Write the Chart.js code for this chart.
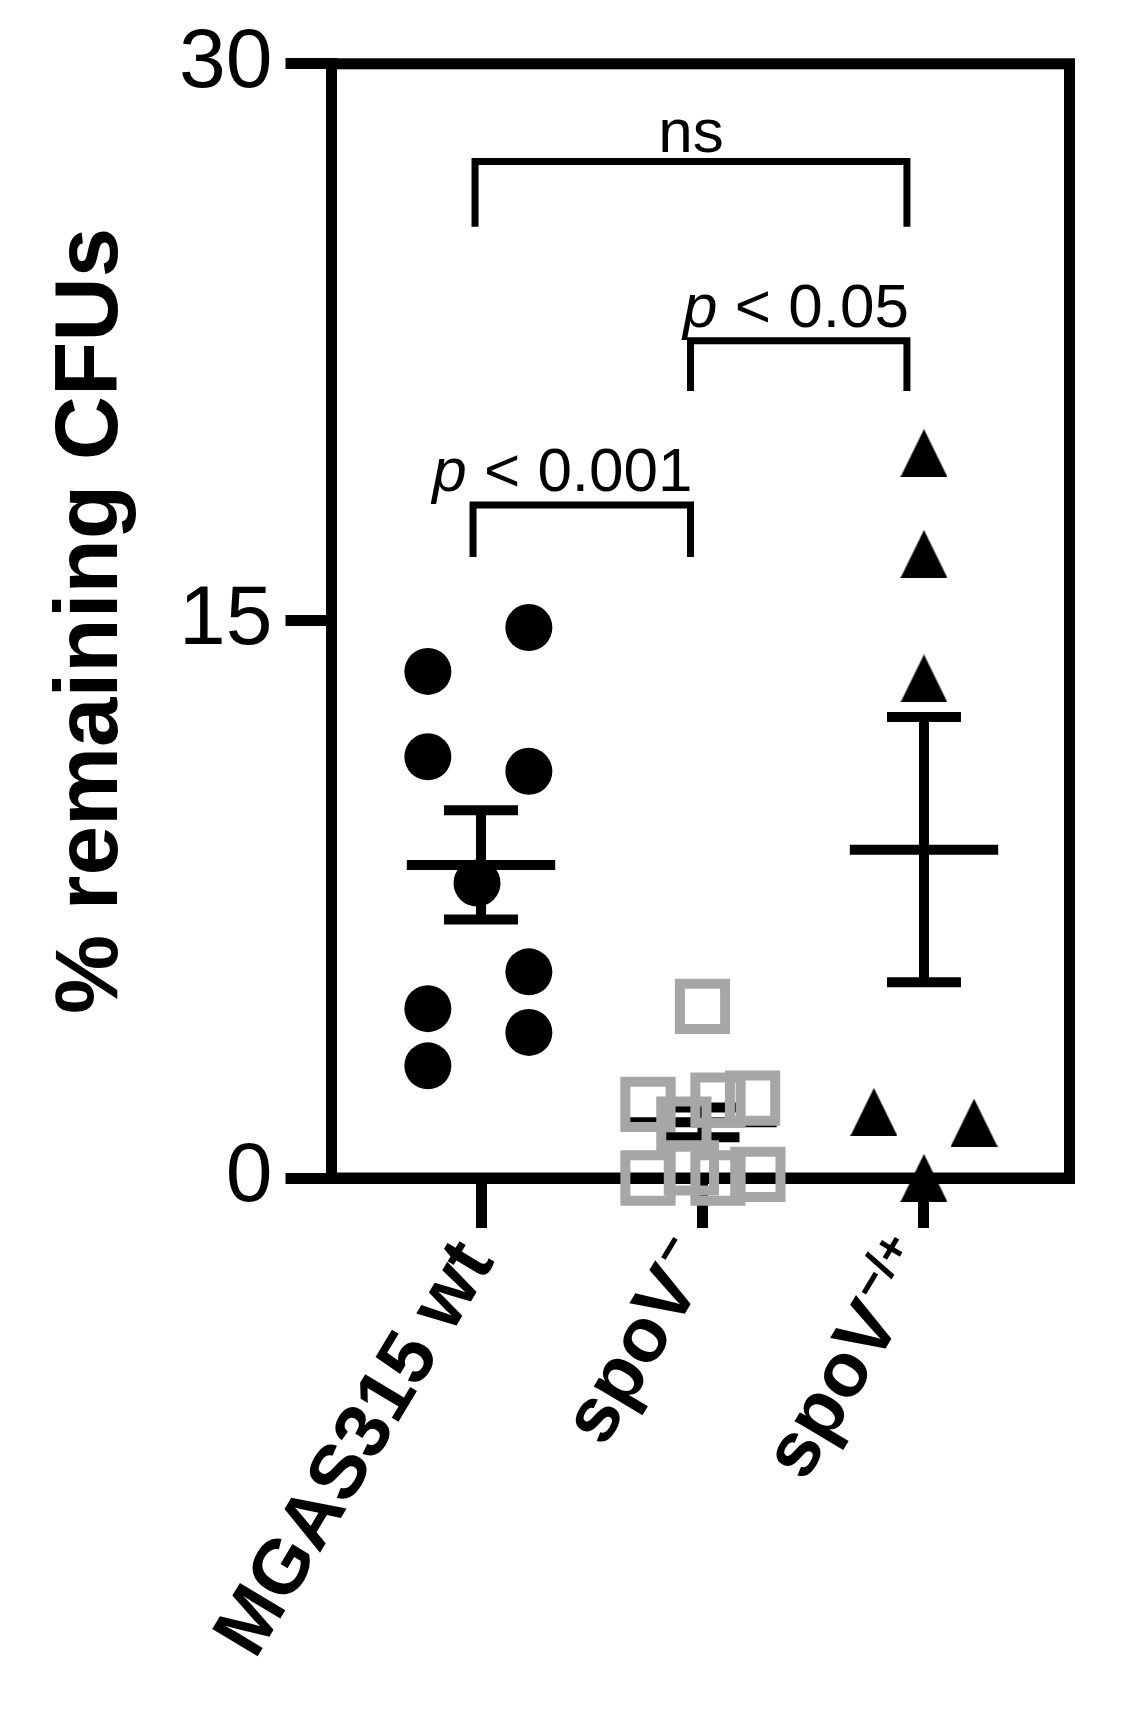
<!DOCTYPE html>
<html>
<head>
<meta charset="utf-8">
<script src="https://cdn.jsdelivr.net/npm/chart.js@4.4.1/dist/chart.umd.min.js"></script>
<style>
  html, body { margin: 0; padding: 0; background: #ffffff; }
  #wrap { width: 1142px; height: 1713px; }
</style>
</head>
<body>
<div id="wrap"><canvas id="c" width="1142" height="1713"></canvas></div>
<script>
// ---------------- data ----------------
const categories = ['MGAS315 wt', 'spoV', 'spoV'];
const categorySuperscripts = ['', '\u2212', '\u2212/+'];
const categoryPositions = [1, 2, 3];

// MGAS315 wt (filled circles)
const wtX = [1.216, 0.760, 0.760, 1.216, 0.982, 1.216, 0.760, 1.216, 0.760];
const wtY = [14.82, 13.64, 11.34, 10.95, 7.94, 5.55, 4.56, 3.92, 3.02];

// spoV- (open grey squares)
const spoX = [2.000, 1.754, 2.070, 2.226, 1.916, 1.950, 1.754, 2.070, 2.250];
const spoY = [4.62, 1.98, 2.10, 2.15, 1.45, 0.27, 0.00, 0.00, 0.10];

// spoV-/+ (filled triangles)
const compX = [3.000, 3.000, 3.000, 2.774, 3.226, 3.000];
const compY = [19.52, 16.80, 13.45, 1.78, 1.49, 0.00];

// mean and SEM per group
const groupMean = [8.43, 1.50, 8.84];
const groupSEM = [1.47, 0.40, 3.57];

// y axis ticks
const yTicks = [0, 15, 30];

// significance brackets
const bracketLeft = [0.973, 1.946, 0.964];
const bracketRight = [2.923, 2.923, 1.946];
const bracketTop = [27.37, 22.54, 18.12];
const bracketLegEnd = [25.61, 21.19, 16.72];
const bracketLabels = ['ns', 'p < 0.05', 'p < 0.001'];

// ---------------- styles ----------------
const FONT = '"Liberation Sans", Arial, Helvetica, sans-serif';
const AXIS_W = 11;
const MEAN_HALF = 0.335;
const CAP_HALF = 0.167;

function triangleCanvas(w, h, color) {
  const cv = document.createElement('canvas');
  cv.width = w; cv.height = h;
  const g = cv.getContext('2d');
  g.fillStyle = color;
  g.beginPath();
  g.moveTo(w / 2, 0);
  g.lineTo(w, h);
  g.lineTo(0, h);
  g.closePath();
  g.fill();
  return cv;
}
const triImg = triangleCanvas(47, 48, '#000000');

function toPts(xs, ys) { return xs.map((x, i) => ({ x: x, y: ys[i] })); }

function lineSet(points, width, order) {
  return {
    type: 'scatter', data: points, showLine: true,
    borderColor: '#000000', borderWidth: width, pointRadius: 0,
    borderCapStyle: 'butt', borderJoinStyle: 'miter',
    tension: 0, clip: false, order: order
  };
}

const datasets = [];

// error bars (mean line + SEM whiskers)
groupMean.forEach((m, g) => {
  const cx = categoryPositions[g];
  const s = groupSEM[g];
  const ord = (g === 1) ? 50 : 1; // spoV- bar sits under its squares
  datasets.push(lineSet([{ x: cx - MEAN_HALF, y: m }, { x: cx + MEAN_HALF, y: m }], 10, ord));
  datasets.push(lineSet([{ x: cx, y: m - s }, { x: cx, y: m + s }], 10, ord));
  datasets.push(lineSet([{ x: cx - CAP_HALF, y: m + s }, { x: cx + CAP_HALF, y: m + s }], 10, ord));
  datasets.push(lineSet([{ x: cx - CAP_HALF, y: m - s }, { x: cx + CAP_HALF, y: m - s }], 10, ord));
});

// brackets
bracketLeft.forEach((l, i) => {
  datasets.push(lineSet([
    { x: l, y: bracketLegEnd[i] }, { x: l, y: bracketTop[i] },
    { x: bracketRight[i], y: bracketTop[i] }, { x: bracketRight[i], y: bracketLegEnd[i] }
  ], 7, 2));
});

// points
datasets.push({
  type: 'scatter', data: toPts(wtX, wtY), pointStyle: 'circle', pointRadius: 23.5,
  backgroundColor: '#000000', borderWidth: 0, clip: false, order: 10
});
datasets.push({
  type: 'scatter', data: toPts(spoX, spoY), pointStyle: 'rect', pointRadius: 32,
  backgroundColor: 'rgba(0,0,0,0)', borderColor: '#a6a6a6', borderWidth: 10, clip: false, order: 10
});
datasets.push({
  type: 'scatter', data: toPts(compX, compY), pointStyle: triImg, pointRadius: 24,
  backgroundColor: '#000000', borderWidth: 0, clip: false, order: 10
});

// ---------------- plugins ----------------
const frame = {
  id: 'frame',
  beforeDatasetsDraw(chart) {
    const a = chart.chartArea, ctx = chart.ctx;
    ctx.save();
    ctx.strokeStyle = '#000000';
    ctx.lineWidth = AXIS_W;
    ctx.lineJoin = 'miter';
    ctx.strokeRect(a.left, a.top, a.right - a.left, a.bottom - a.top);
    ctx.restore();
  }
};

const texts = {
  id: 'texts',
  afterDraw(chart) {
    const ctx = chart.ctx;
    const xs = chart.scales.x, ys = chart.scales.y;
    ctx.save();
    ctx.fillStyle = '#000000';

    // category labels (rotated)
    const ang = 59 * Math.PI / 180;
    categories.forEach((c, i) => {
      const px = xs.getPixelForValue(categoryPositions[i]);
      ctx.save();
      ctx.translate(px - 4, xs.top + 72);
      ctx.rotate(-ang);
      ctx.textBaseline = 'middle';
      ctx.textAlign = 'left';
      ctx.font = 'bold 77px ' + FONT;
      const w1 = ctx.measureText(c).width;
      const sup = categorySuperscripts[i];
      ctx.font = 'bold 47px ' + FONT;
      const w2 = sup ? ctx.measureText(sup).width + 3 : 0;
      ctx.font = 'bold 77px ' + FONT;
      ctx.fillText(c, -(w1 + w2), 0);
      if (sup) {
        ctx.font = 'bold 47px ' + FONT;
        ctx.fillText(sup, -w2 + 3, -23);
      }
      ctx.restore();
    });

    // bracket labels
    bracketLabels.forEach((t, i) => {
      const y = ys.getPixelForValue(bracketTop[i]) - 14;
      const xl = xs.getPixelForValue(bracketLeft[i]);
      const xr = xs.getPixelForValue(bracketRight[i]);
      ctx.textBaseline = 'alphabetic';
      ctx.textAlign = 'left';
      if (t.startsWith('p ')) {
        const rest = t.slice(1);
        ctx.font = 'italic 62px ' + FONT;
        const wp = ctx.measureText('p').width;
        ctx.font = '62px ' + FONT;
        const wr = ctx.measureText(rest).width;
        const x0 = xr + 2 - (wp + wr);
        ctx.font = 'italic 62px ' + FONT;
        ctx.fillText('p', x0, y);
        ctx.font = '62px ' + FONT;
        ctx.fillText(rest, x0 + wp, y);
      } else {
        ctx.font = '62px ' + FONT;
        ctx.textAlign = 'center';
        ctx.fillText(t, (xl + xr) / 2, y + 5);
      }
    });
    ctx.restore();
  }
};

// ---------------- chart ----------------
new Chart(document.getElementById('c'), {
  type: 'scatter',
  data: { datasets: datasets },
  options: {
    responsive: false,
    devicePixelRatio: 1,
    animation: false,
    events: [],
    layout: { padding: { top: 63.8, right: 72.5, left: 0, bottom: 0 } },
    plugins: { legend: { display: false }, tooltip: { enabled: false } },
    scales: {
      x: {
        type: 'linear', min: 0.325, max: 3.657,
        border: { display: true, width: AXIS_W, color: '#000000' },
        grid: { display: true, drawOnChartArea: false, drawTicks: true, tickLength: 50,
                tickWidth: AXIS_W, tickColor: '#000000', color: '#000000', lineWidth: AXIS_W },
        afterBuildTicks: s => { s.ticks = categoryPositions.map(v => ({ value: v })); },
        ticks: { autoSkip: false, maxRotation: 0, minRotation: 0, callback: () => '' },
        afterFit: s => { s.height = 535; }
      },
      y: {
        type: 'linear', min: 0, max: 30,
        border: { display: true, width: AXIS_W, color: '#000000' },
        grid: { display: true, drawOnChartArea: false, drawTicks: true, tickLength: 46,
                tickWidth: AXIS_W, tickColor: '#000000', color: '#000000', lineWidth: AXIS_W },
        afterBuildTicks: s => { s.ticks = yTicks.map(v => ({ value: v })); },
        ticks: { color: '#000000', padding: 13, font: { family: FONT, size: 84 },
                 callback: v => String(v) },
        title: { display: true, text: '% remaining CFUs', color: '#000000',
                 font: { family: FONT, size: 89, weight: 'bold' }, padding: { top: 39, bottom: 0 } },
        afterFit: s => { s.width = 331.5; }
      }
    }
  },
  plugins: [frame, texts]
});
</script>
</body>
</html>
